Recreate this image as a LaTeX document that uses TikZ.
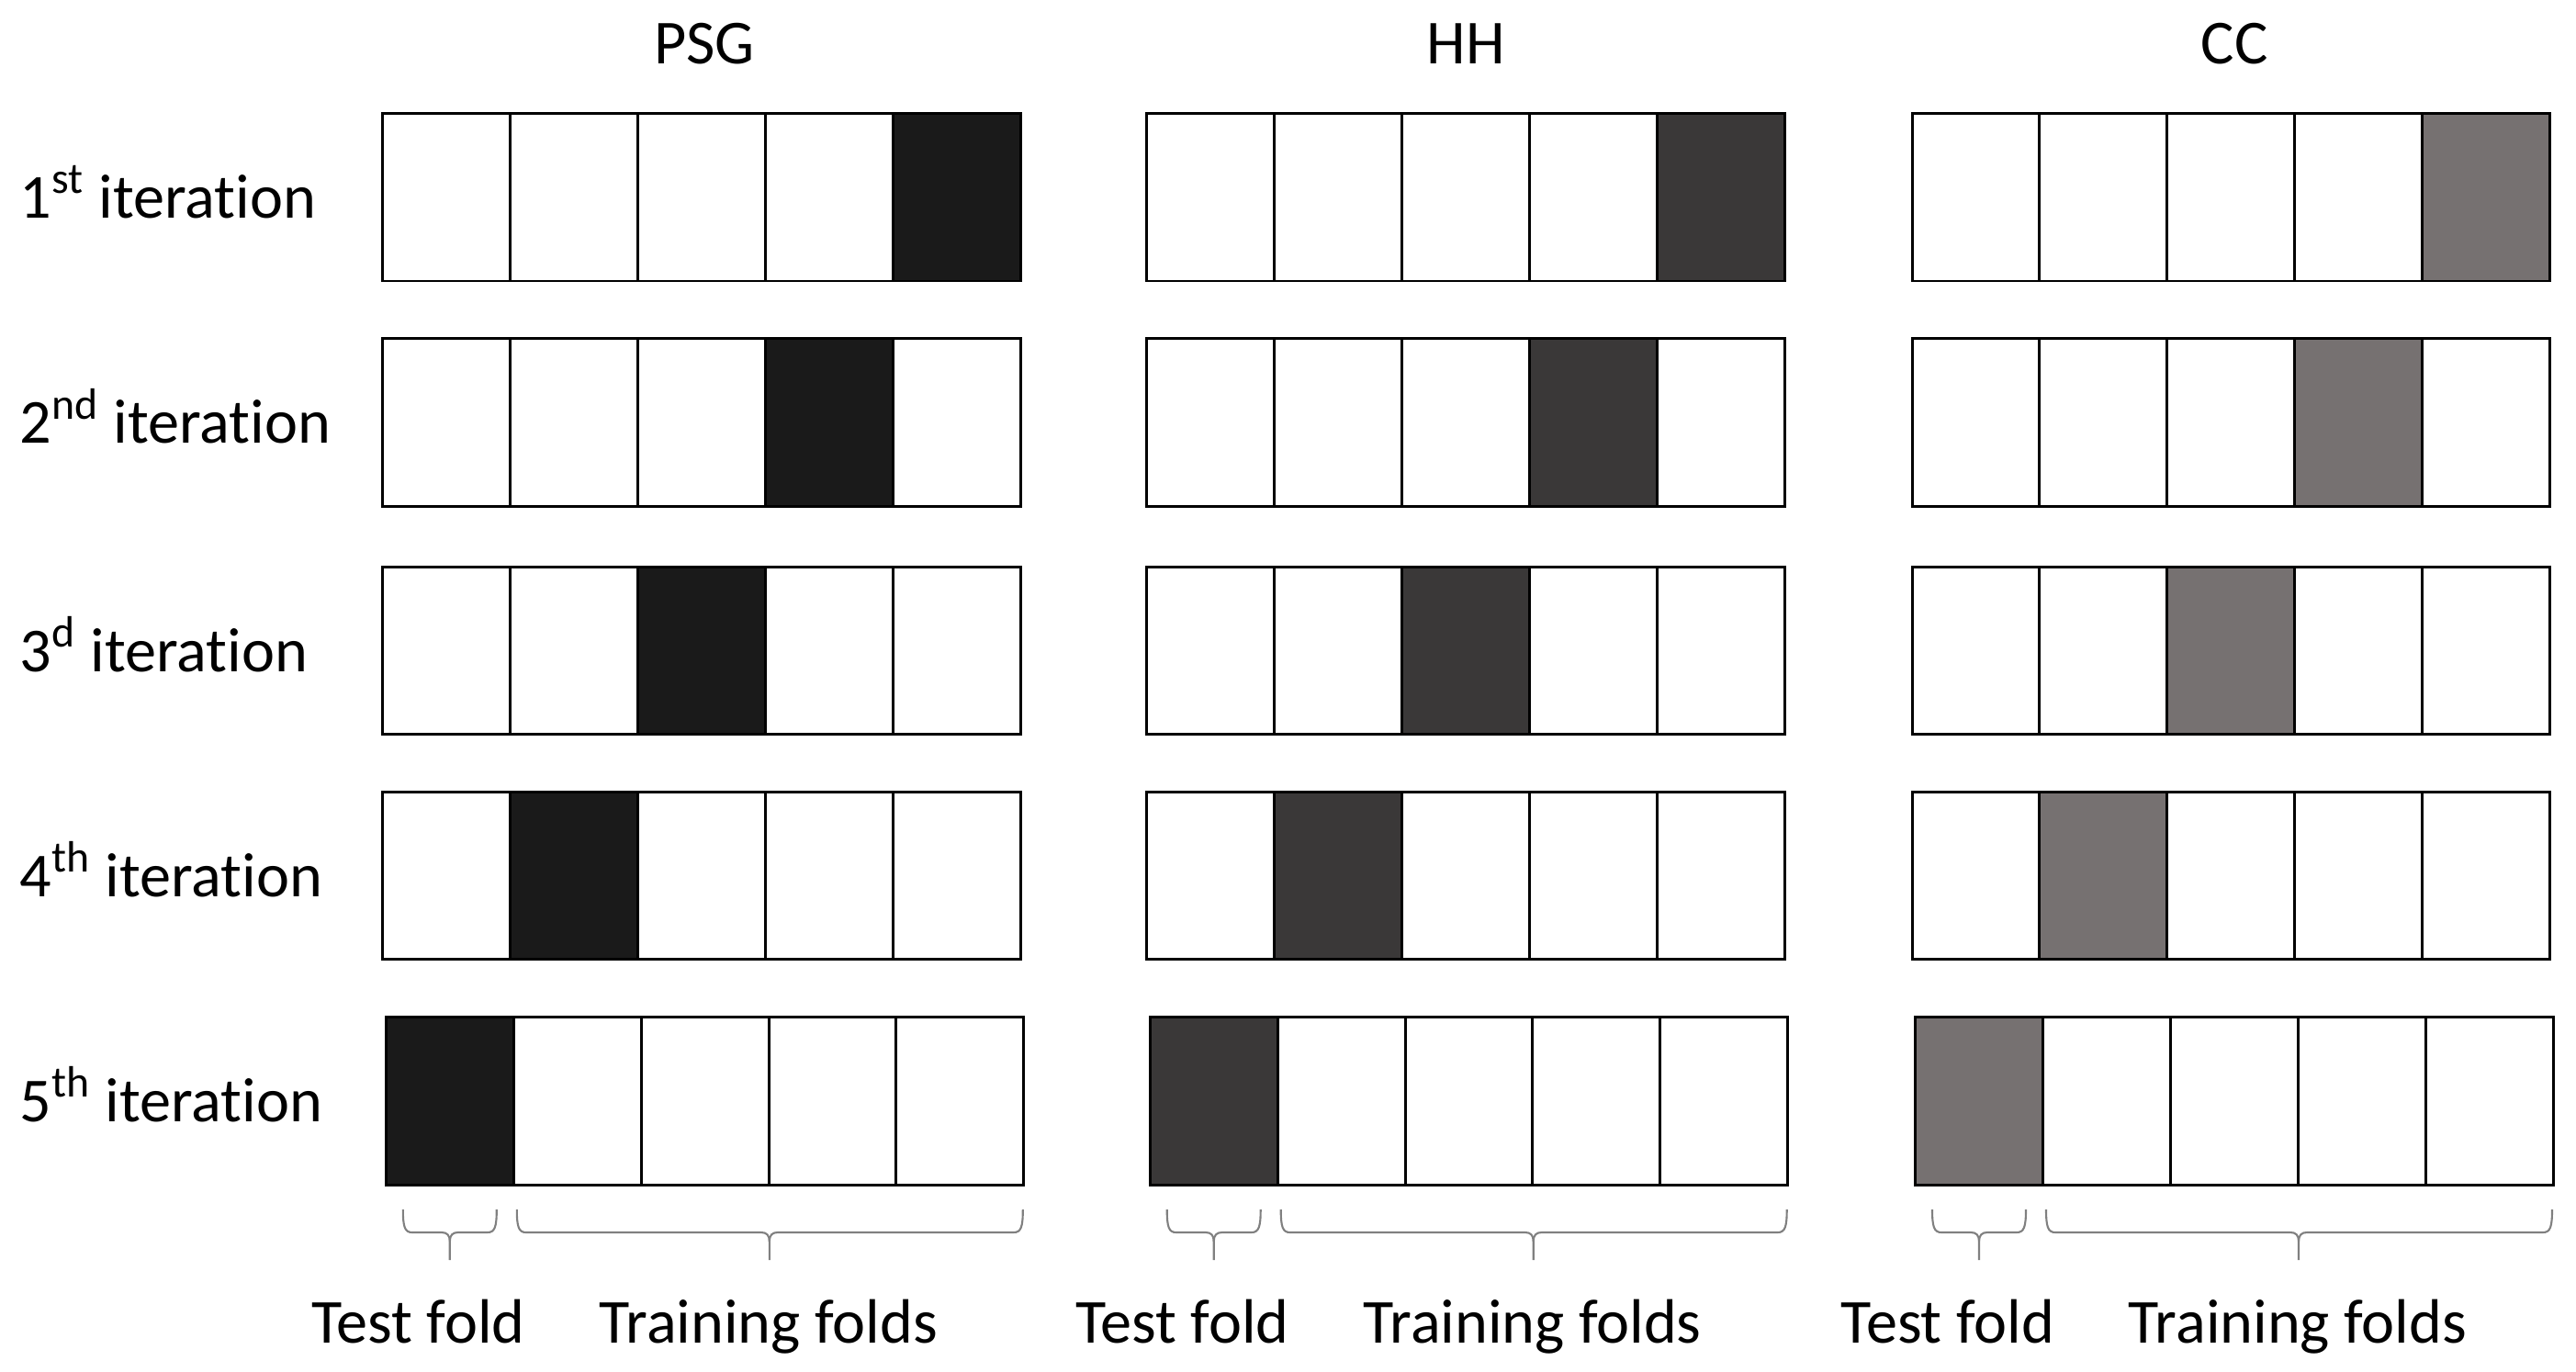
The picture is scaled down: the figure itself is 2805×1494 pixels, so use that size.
\documentclass[tikz,border=0pt]{standalone}
\usepackage{fontspec}
\setmainfont[Ligatures=NoCommon]{Carlito}
\definecolor{psgc}{HTML}{1A1A1A}
\definecolor{hhc}{HTML}{3A3838}
\definecolor{ccc}{HTML}{767171}
\definecolor{bracec}{HTML}{808080}
\newcommand\foldbrace[3]{%
  \draw[brc] (#1,1317) .. controls (#1,1336) and ({#1+2},1342) .. ({#1+10},1342) -- ({#3-9},1342)
     .. controls ({#3-3},1342) and (#3,1345) .. (#3,1352) -- (#3,1372);
  \draw[brc] (#2,1317) .. controls (#2,1336) and ({#2-2},1342) .. ({#2-10},1342) -- ({#3+9},1342)
     .. controls ({#3+3},1342) and (#3,1345) .. (#3,1352);
}
\begin{document}
\begin{tikzpicture}[x=0.01cm,y=-0.01cm,
  cell/.style={draw=black, line width=0.85pt, minimum width=1.389cm, minimum height=1.825cm,
    inner sep=0pt, outer sep=0pt, anchor=north west},
  lbl/.style={font=\fontsize{19.4}{23}\selectfont, inner sep=0pt},
  brc/.style={draw=bracec, line width=0.6pt}]
\useasboundingbox (0,0) rectangle (2805,1494);
% grids
\foreach \g/\gx/\col in {P/416.8/psgc,H/1248.7/hhc,C/2082/ccc}{
  \foreach \r/\ry/\dx in {1/123.4/0,2/368.5/0,3/617.2/0,4/862.3/0,5/1107.4/3.5}{
    \pgfmathtruncatemacro\act{6-\r}
    \foreach \c in {1,...,5}{
      \ifnum\c=\act\relax \def\fc{\col}\else\def\fc{white}\fi
      \node[cell, fill=\fc] (\g-\r-\c) at ({\gx+\dx+(\c-1)*138.9},\ry) {};
    }
  }
}
% titles
\node[lbl] (tP) at (767,48) {PSG};
\node[lbl] (tH) at (1596,48) {HH};
\node[lbl] (tC) at (2433,48) {CC};
% row labels
\node[lbl, anchor=base west] (L1) at (21,237.4) {1\textsuperscript{st} iteration};
\node[lbl, anchor=base west] (L2) at (21,482.5) {2\textsuperscript{nd} iteration};
\node[lbl, anchor=base west] (L3) at (21,731.2) {3\textsuperscript{d} iteration};
\node[lbl, anchor=base west] (L4) at (21,976.3) {4\textsuperscript{th} iteration};
\node[lbl, anchor=base west] (L5) at (21,1221.4) {5\textsuperscript{th} iteration};
% braces and bottom labels
\foreach \g/\gx in {P/416.8,H/1248.7,C/2082}{
  \foldbrace{\gx+22}{\gx+124}{\gx+73}
  \foldbrace{\gx+146}{\gx+697}{\gx+421}
  \node[lbl, anchor=base] (tf-\g) at ({\gx+39},1462) {Test fold};
  \node[lbl, anchor=base] (tr-\g) at ({\gx+420},1462) {Training folds};
}
\end{tikzpicture}
\end{document}
